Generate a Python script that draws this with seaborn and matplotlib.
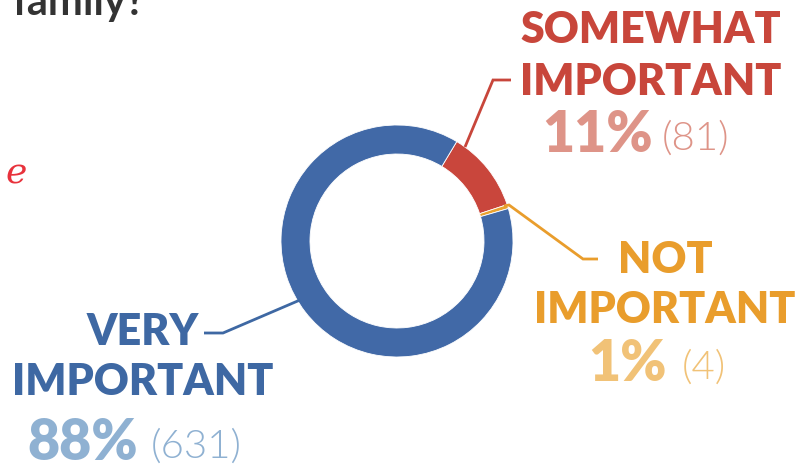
import matplotlib
matplotlib.use("Agg")
import matplotlib.pyplot as plt
import seaborn as sns

# answers, counts, shares
answers = ["SOMEWHAT\nIMPORTANT", "NOT\nIMPORTANT", "VERY\nIMPORTANT"]
counts = [81, 4, 631]
shares = ["11%", "1%", "88%"]

ring_colors = ["#c9463c", "#e9a22f", "#4169a7"]
label_colors = ["#c8463b", "#e99d2c", "#3e68a3"]
share_colors = ["#de9488", "#f1c277", "#8fb1d2"]

sns.set_theme(style="white")
plt.rcParams['font.family'] = ['Lato', 'DejaVu Sans']

W, H = 796, 468
fig = plt.figure(figsize=(W / 100, H / 100), dpi=100)
ax = fig.add_axes([0, 0, 1, 1])


def py(y):
    # picture rows run downwards, data y runs upwards
    return H - y


cx, cy, r = 397, py(241), 116
ax.pie(counts, colors=ring_colors, startangle=59, counterclock=False,
       center=(cx, cy), radius=r,
       wedgeprops=dict(width=29, edgecolor="white", linewidth=0.6))
ax.set_xlim(0, W)
ax.set_ylim(0, H)
ax.set_aspect("equal")
ax.axis("off")

# leader lines
leaders = [
    [(465, 147), (493, 80), (511, 80)],
    [(504, 206), (509, 205), (583, 259), (598, 259)],
    [(300, 300), (223, 333), (204, 333)],
]
for pts, c in zip(leaders, label_colors):
    ax.plot([p[0] for p in pts], [py(p[1]) for p in pts], color=c, lw=2.0,
            solid_capstyle="butt", solid_joinstyle="miter")

# label blocks: (x centre, baseline line 1, baseline line 2, baseline share,
#                share right edge, count left edge)
blocks = [
    (651, 43, 95, 152, 653, 662),
    (665, 273, 323, 381, 667, 682),
    (143, 345, 395, 460, 138, 151),
]
for i, (x, b1, b2, b3, sx, nx) in enumerate(blocks):
    line1, line2 = answers[i].split("\n")
    ax.text(x, py(b1), line1, ha="center", va="baseline", fontsize=31,
            fontweight="heavy", color=label_colors[i])
    ax.text(x, py(b2), line2, ha="center", va="baseline", fontsize=31,
            fontweight="heavy", color=label_colors[i])
    ax.text(sx, py(b3), shares[i], ha="right", va="baseline", fontsize=40,
            fontweight="heavy", color=share_colors[i])
    ax.text(nx, py(b3 - 2), f"({counts[i]})", ha="left", va="baseline",
            fontsize=29, fontweight=300, color=share_colors[i])

# cut-off question text and handwritten mark from the source page
ax.text(145, py(15), "family?", ha="right", va="baseline", fontsize=30,
        fontweight="bold", color="#333333")
ax.text(16, py(183), "e", ha="center", va="baseline", fontsize=26,
        fontstyle="italic", color="#e8323c", family=["DejaVu Serif"])

fig.savefig("out.png", dpi=100)
